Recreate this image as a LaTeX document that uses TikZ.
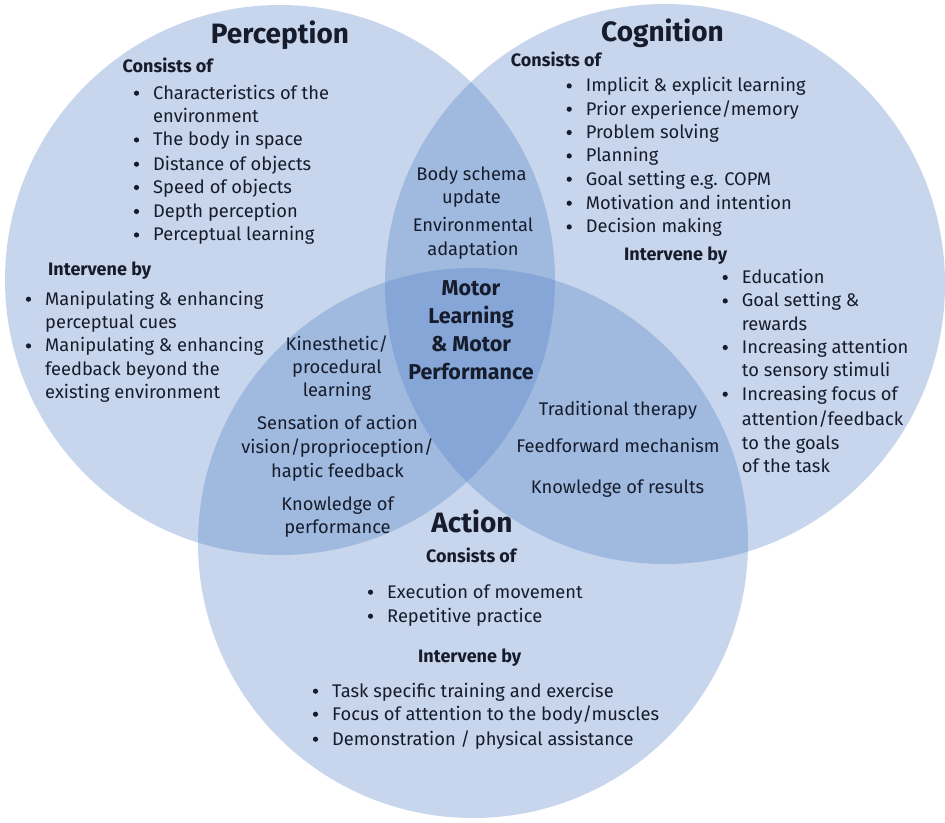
\documentclass[tikz,border=0pt]{standalone}
\usepackage{fontspec}
\setmainfont{Fira Sans}
\definecolor{vennblue}{RGB}{72,122,195}
\definecolor{ink}{RGB}{22,28,44}
\tikzset{
  venn/.style={fill=vennblue, fill opacity=0.3, draw=none},
  txt/.style={font=\fontsize{18.3}{22}\selectfont, text=ink, inner sep=0pt, anchor=base west},
  ctxt/.style={font=\fontsize{18.3}{22}\selectfont, text=ink, inner sep=0pt, anchor=base},
  head/.style={font=\bfseries\fontsize{18}{21}\selectfont, text=ink, inner sep=0pt, anchor=base west},
  ttl/.style={font=\bfseries\fontsize{28}{32}\selectfont, text=ink, inner sep=0pt, anchor=base},
  core/.style={font=\bfseries\fontsize{21.5}{24}\selectfont, text=ink, inner sep=0pt, anchor=base},
  dot/.style={fill=ink},
}
\begin{document}
\begin{tikzpicture}[x=1pt,y=-1pt]
\useasboundingbox (0,0) rectangle (945,822);
\fill[white] (0,0) rectangle (945,822);
% circles
\fill[venn] (280,280) circle (275);
\fill[venn] (665,284) circle (280);
\fill[venn] (473,543) circle (275);

% Perception
\node[ttl] (ptitle) at (280,43) {Perception};
\node[head] (pcons) at (122.5,72) {Consists of};
\node[txt] (pc1) at (153,99) {Characteristics of the};
\node[txt] (pc1b) at (153,122.3) {environment};
\node[txt] (pc2) at (153,145.7) {The body in space};
\node[txt] (pc3) at (153,170) {Distance of objects};
\node[txt] (pc4) at (153,193.3) {Speed of objects};
\node[txt] (pc5) at (153,217.3) {Depth perception};
\node[txt] (pc6) at (153,240.7) {Perceptual learning};
\node[head] (pint) at (48,275) {Intervene by};
\node[txt] (pi1) at (45,305) {Manipulating \& enhancing};
\node[txt] (pi1b) at (45,328.3) {perceptual cues};
\node[txt] (pi2) at (45,351.7) {Manipulating \& enhancing};
\node[txt] (pi2b) at (45,375) {feedback beyond the};
\node[txt] (pi2c) at (45,398.3) {existing environment};

% Cognition
\node[ttl] (ctitle) at (662.5,41.7) {Cognition};
\node[head] (ccons) at (510.7,66.7) {Consists of};
\node[txt] (cc1) at (585.7,91.7) {Implicit \& explicit learning};
\node[txt] (cc2) at (585.7,115) {Prior experience/memory};
\node[txt] (cc3) at (585.7,138.3) {Problem solving};
\node[txt] (cc4) at (585.7,161.7) {Planning};
\node[txt] (cc5) at (585.7,185) {Goal setting e.g. COPM};
\node[txt] (cc6) at (585.7,209) {Motivation and intention};
\node[txt] (cc7) at (585.7,232.7) {Decision making};
\node[head] (cint) at (624,260) {Intervene by};
\node[txt] (ci1) at (741.7,283.3) {Education};
\node[txt] (ci2) at (741.7,306.7) {Goal setting \&};
\node[txt] (ci2b) at (741.7,330) {rewards};
\node[txt] (ci3) at (741.7,353.3) {Increasing attention};
\node[txt] (ci3b) at (741.7,376.7) {to sensory stimuli};
\node[txt] (ci4) at (741.7,400) {Increasing focus of};
\node[txt] (ci4b) at (741.7,425) {attention/feedback};
\node[txt] (ci4c) at (741.7,449) {to the goals};
\node[txt] (ci4d) at (741.7,472) {of the task};

% Perception & Cognition
\node[ctxt] (pcg1) at (471.5,180) {Body schema};
\node[ctxt] (pcg1b) at (471.5,203) {update};
\node[ctxt] (pcg2) at (473,231.7) {Environmental};
\node[ctxt] (pcg2b) at (473,255) {adaptation};

% Core
\node[core] (m1) at (471,295) {Motor};
\node[core] (m2) at (471,323) {Learning};
\node[core] (m3) at (471,351.5) {\& Motor};
\node[core] (m4) at (471,379.3) {Performance};

% Perception & Action
\node[ctxt] (pa1) at (337,350) {Kinesthetic/};
\node[ctxt] (pa1b) at (337,373.3) {procedural};
\node[ctxt] (pa1c) at (337,396.7) {learning};
\node[ctxt] (pa2) at (337.5,429) {Sensation of action};
\node[ctxt] (pa2b) at (337.5,453) {vision/proprioception/};
\node[ctxt] (pa2c) at (337.5,477) {haptic feedback};
\node[ctxt] (pa3) at (337.5,510) {Knowledge of};
\node[ctxt] (pa3b) at (337.5,533) {performance};

% Cognition & Action
\node[ctxt] (ca1) at (618,415) {Traditional therapy};
\node[ctxt] (ca2) at (618,452) {Feedforward mechanism};
\node[ctxt] (ca3) at (617.5,493) {Knowledge of results};

% Action
\node[ttl] (atitle) at (472,532) {Action};
\node[head] (acons) at (426,562) {Consists of};
\node[txt] (ac1) at (387,598) {Execution of movement};
\node[txt] (ac2) at (387,622) {Repetitive practice};
\node[head] (aint) at (418,662) {Intervene by};
\node[txt] (ai1) at (332,697) {Task specific training and exercise};
\node[txt] (ai2) at (332,720) {Focus of attention to the body/muscles};
\node[txt] (ai3) at (332,745) {Demonstration / physical assistance};

% bullets
\foreach \n in {pc1,pc2,pc3,pc4,pc5,pc6,pi1,pi2,cc1,cc2,cc3,cc4,cc5,cc6,cc7,ci1,ci2,ci3,ci4,ac1,ac2,ai1,ai2,ai3}
  \fill[dot] ([shift={(-16.5,-5.8)}]\n.base west) circle (2.6);
\end{tikzpicture}
\end{document}
